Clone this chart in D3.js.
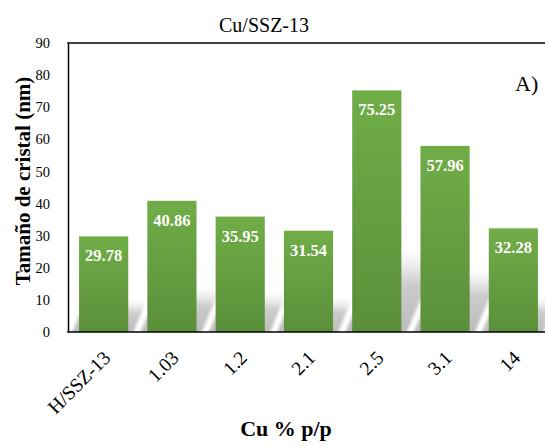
<!DOCTYPE html>
<html>
<head>
<meta charset="utf-8">
<script src="https://cdn.jsdelivr.net/npm/d3@7"></script>
<style>
  html, body { margin: 0; padding: 0; background: #fff; }
  svg { display: block; font-family: "Liberation Serif", "Times New Roman", serif; }
</style>
</head>
<body>
<svg id="chart" width="545" height="446"></svg>
<script>
const categories = ["H/SSZ-13", "1.03", "1.2", "2.1", "2.5", "3.1", "14"];
const values = [29.78, 40.86, 35.95, 31.54, 75.25, 57.96, 32.28];
const yTicks = [0, 10, 20, 30, 40, 50, 60, 70, 80, 90];
const title = "Cu/SSZ-13";
const yTitle = "Tamaño de cristal (nm)";
const xTitle = "Cu % p/p";
const panelLabel = "A)";

const svg = d3.select("#chart");
const x = d3.scaleBand().domain(categories).range([69.5, 547.5]).paddingInner(0.28).paddingOuter(0.14);
const y = d3.scaleLinear().domain([0, 90]).range([332, 43]);

const defs = svg.append("defs");
const bg = defs.append("linearGradient").attr("id", "barGrad").attr("x1", 0).attr("y1", 0).attr("x2", 0).attr("y2", 1);
bg.append("stop").attr("offset", "0%").attr("stop-color", "#70ad47");
bg.append("stop").attr("offset", "100%").attr("stop-color", "#5b8f3b");

const sg = defs.append("linearGradient").attr("id", "shGrad").attr("x1", 0).attr("y1", 1).attr("x2", 0).attr("y2", 0);
sg.append("stop").attr("offset", "0%").attr("stop-color", "#b9b9b9").attr("stop-opacity", 1);
sg.append("stop").attr("offset", "60%").attr("stop-color", "#c6c6c6").attr("stop-opacity", 0.9);
sg.append("stop").attr("offset", "100%").attr("stop-color", "#dddddd").attr("stop-opacity", 0);

defs.append("filter").attr("id", "blur").attr("x", "-20%").attr("y", "-20%").attr("width", "140%").attr("height", "140%")
  .append("feGaussianBlur").attr("stdDeviation", 1.8);

defs.append("clipPath").attr("id", "plotClip")
  .append("rect").attr("x", 68).attr("y", 43).attr("width", 480).attr("height", 289);

const base = y(0);
// shadows
const shadowG = svg.append("g").attr("clip-path", "url(#plotClip)");
shadowG.selectAll("polygon").data(values).join("polygon")
  .attr("points", (d, i) => {
    const x0 = x(categories[i]) - 8, x1 = x(categories[i]) + x.bandwidth() + 4;
    const s = 0.34 * (base - y(d));
    const dx = s * 0.45;
    return [[x0, base + 3], [x1, base + 3], [x1 + dx, base - s], [x0 + dx, base - s]].map(p => p.join(",")).join(" ");
  })
  .attr("fill", "url(#shGrad)")
  .attr("filter", "url(#blur)");

// bars
svg.append("g").selectAll("rect").data(values).join("rect")
  .attr("x", (d, i) => x(categories[i]))
  .attr("y", d => y(d))
  .attr("width", x.bandwidth())
  .attr("height", d => base - y(d))
  .attr("fill", "url(#barGrad)");

// value labels
svg.append("g").selectAll("text").data(values).join("text")
  .attr("x", (d, i) => x(categories[i]) + x.bandwidth() / 2)
  .attr("y", d => y(d) + 25)
  .attr("text-anchor", "middle")
  .attr("font-weight", "bold")
  .attr("font-size", "16.5px")
  .attr("fill", "#fff")
  .text(d => d.toFixed(2));

// axes
const yAxis = d3.axisLeft(y).tickValues(yTicks).tickSize(0).tickPadding(18);
const yg = svg.append("g").attr("transform", "translate(68,0)").call(yAxis);
yg.select(".domain").attr("stroke", "#000").attr("stroke-width", 1.5);
yg.selectAll("text").attr("font-family", "Liberation Serif, Times New Roman, serif").attr("font-size", "14.5px").attr("fill", "#000");

const xAxis = d3.axisBottom(x).tickSize(0).tickPadding(0);
const xg = svg.append("g").attr("transform", `translate(0,${base})`).call(xAxis);
xg.select(".domain").remove();
xg.selectAll("text")
  .attr("font-family", "Liberation Serif, Times New Roman, serif").attr("font-size", "19.5px").attr("fill", "#000")
  .attr("text-anchor", "end")
  .attr("dy", null)
  .attr("transform", "translate(8,27) rotate(-45)");

svg.append("line").attr("x1", 67.25).attr("x2", 545).attr("y1", base).attr("y2", base).attr("stroke", "#000").attr("stroke-width", 1.5);
svg.append("line").attr("x1", 67.25).attr("x2", 545).attr("y1", 43).attr("y2", 43).attr("stroke", "#000").attr("stroke-width", 1.5);

// titles
svg.append("text").attr("x", 264).attr("y", 32).attr("text-anchor", "middle").attr("font-size", "20px").text(title);
svg.append("text").attr("transform", "translate(30,181) rotate(-90)").attr("text-anchor", "middle")
  .attr("font-size", "21px").attr("font-weight", "bold").text(yTitle);
svg.append("text").attr("x", 286).attr("y", 436).attr("text-anchor", "middle")
  .attr("font-size", "22px").attr("font-weight", "bold").text(xTitle);
svg.append("text").attr("x", 515).attr("y", 91).attr("font-size", "22px").text(panelLabel);
</script>
</body>
</html>
